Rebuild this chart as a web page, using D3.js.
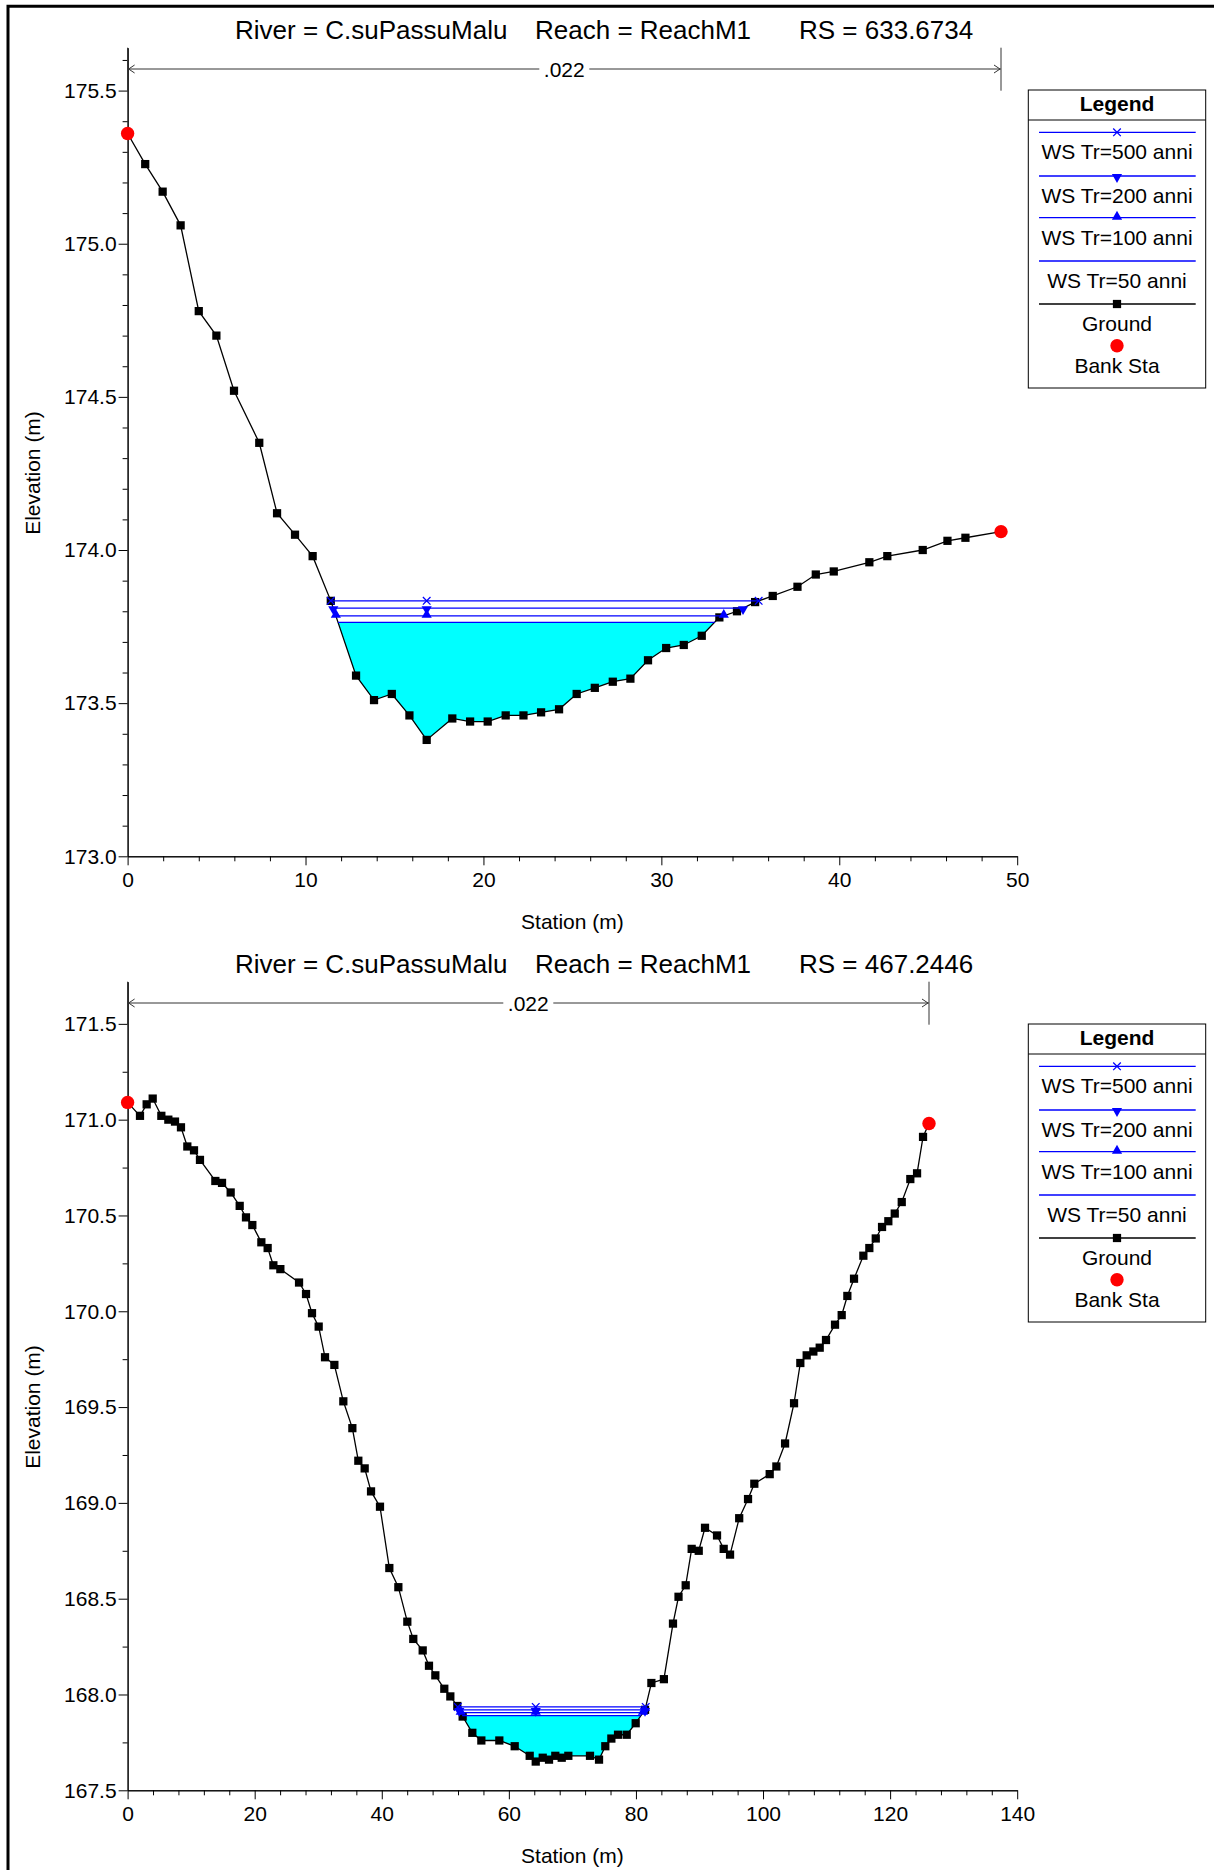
<!DOCTYPE html>
<html><head><meta charset="utf-8">
<script src="https://cdn.jsdelivr.net/npm/d3@7/dist/d3.min.js"></script>
<style>
body{margin:0;background:#fff}
svg{display:block}
text{font-family:'Liberation Sans',Arial,Helvetica,sans-serif;fill:#000}
</style>
</head><body>
<svg id="chart" width="1214" height="1870"></svg>
<script>
// ---------------- DATA ----------------
const riverLabel = "River = C.suPassuMalu";
const reachLabel = "Reach = ReachM1";
const rsLabels = ["RS = 633.6734", "RS = 467.2446"];
const manningLabel = ".022";
const xAxisTitle = "Station (m)";
const yAxisTitle = "Elevation (m)";
const legendTitle = "Legend";
const wsNames = ["WS Tr=500 anni", "WS Tr=200 anni", "WS Tr=100 anni", "WS Tr=50 anni"];
const groundName = "Ground";
const bankName = "Bank Sta";

// Cross section 1 (RS 633.6734)
const topStation = [0, 0.99, 1.97, 2.98, 4.0, 4.99, 5.98, 7.40, 8.40, 9.41, 10.40, 11.42, 12.84, 13.85, 14.85, 15.84, 16.81, 18.25, 19.25, 20.24, 21.25, 22.25, 23.24, 24.25, 25.24, 26.26, 27.27, 28.26, 29.25, 30.27, 31.26, 32.27, 33.26, 34.25, 35.27, 36.26, 37.65, 38.68, 39.69, 41.69, 42.70, 44.69, 46.08, 47.09, 49.09];
const topElevation = [175.36, 175.26, 175.17, 175.06, 174.78, 174.70, 174.52, 174.35, 174.12, 174.05, 173.98, 173.834, 173.59, 173.51, 173.53, 173.46, 173.38, 173.45, 173.44, 173.44, 173.46, 173.46, 173.47, 173.48, 173.53, 173.55, 173.57, 173.58, 173.64, 173.68, 173.69, 173.72, 173.78, 173.80, 173.83, 173.85, 173.88, 173.92, 173.93, 173.96, 173.98, 174.00, 174.03, 174.04, 174.06];
const topBankStation = [0, 49.09];
const topBankElevation = [175.36, 174.06];
const topWS = [173.834, 173.810, 173.785, 173.764];   // Tr 500, 200, 100, 50
const topXDomain = [0, 50];
const topYDomain = [173.0, 175.64];
const topXTicks = [0, 10, 20, 30, 40, 50];
const topXMinorStep = 2;
const topYTicks = [173.0, 173.5, 174.0, 174.5, 175.0, 175.5];
const topYMinorStep = 0.1;

// Cross section 2 (RS 467.2446)
const botStation = [0, 1.95, 3.0, 3.95, 5.31, 6.41, 7.46, 8.40, 9.40, 10.45,
  11.39, 13.81, 14.86, 16.22, 17.64, 18.63, 19.63, 21.05, 22.04, 22.94,
  24.04, 26.98, 28.08, 29.02, 30.07, 31.07, 32.54, 33.95, 35.37, 36.31,
  37.31, 38.31, 39.72, 41.19, 42.61, 44.02, 44.96, 46.44, 47.43, 48.43,
  49.84, 50.79, 51.89, 52.73, 54.25, 55.67, 58.5, 60.92, 63.28, 64.23,
  65.33, 66.32, 67.31, 68.32, 69.36, 72.77, 74.19, 75.18, 76.13, 77.18,
  78.55, 79.96, 81.43, 82.43, 84.4, 85.83, 86.7, 87.83, 88.77, 89.88,
  90.87, 92.76, 93.81, 94.81, 96.25, 97.64, 98.63, 101.05, 102.1, 103.47,
  104.88, 105.87, 106.87, 107.92, 108.92, 109.91, 111.33, 112.38, 113.27, 114.32,
  115.79, 116.73, 117.74, 118.73, 119.72, 120.73, 121.83, 123.18, 124.24, 125.18,
  126.12];
const botElevation = [171.09, 171.02, 171.08, 171.11, 171.02, 171.0, 170.99, 170.96, 170.86, 170.84,
  170.79, 170.68, 170.67, 170.62, 170.55, 170.49, 170.45, 170.36, 170.33, 170.24,
  170.22, 170.15, 170.09, 169.99, 169.92, 169.76, 169.72, 169.53, 169.39, 169.22,
  169.18, 169.06, 168.98, 168.66, 168.56, 168.38, 168.29, 168.23, 168.15, 168.10,
  168.03, 167.99, 167.94, 167.885, 167.80, 167.76, 167.76, 167.73, 167.68, 167.65,
  167.67, 167.66, 167.68, 167.67, 167.68, 167.68, 167.66, 167.73, 167.77, 167.79,
  167.79, 167.85, 167.92, 168.06, 168.08, 168.37, 168.51, 168.57, 168.76, 168.75,
  168.87, 168.83, 168.76, 168.73, 168.92, 169.02, 169.10, 169.15, 169.19, 169.31,
  169.52, 169.73, 169.77, 169.79, 169.81, 169.85, 169.93, 169.98, 170.08, 170.17,
  170.29, 170.33, 170.38, 170.44, 170.47, 170.51, 170.57, 170.69, 170.72, 170.91,
  170.98];
const botBankStation = [0, 126.12];
const botBankElevation = [171.09, 170.98];
const botWS = [167.935, 167.920, 167.905, 167.890];
const botXDomain = [0, 140];
const botYDomain = [167.5, 171.72];
const botXTicks = [0, 20, 40, 60, 80, 100, 120, 140];
const botXMinorStep = 4;
const botYTicks = [167.5, 168.0, 168.5, 169.0, 169.5, 170.0, 170.5, 171.0, 171.5];
const botYMinorStep = 0.25;

// ---------------- LAYOUT / STYLE ----------------
const PLOT = {left: 127.6, right: 1017.2, top: 47.7, bottom: 856.3};
const PANEL_OFFSETS = [0, 934];
const BLUE = "#0000ff", CYAN = "#00ffff", RED = "#ff0000";
const FONT = 21;

const svg = d3.select("#chart");
svg.append("rect").attr("width", 1214).attr("height", 1870).attr("fill", "#fff");
// outer frame
svg.append("path").attr("d", "M8,1870V6.3H1214").attr("fill", "none").attr("stroke", "#000").attr("stroke-width", 3);

const markerPath = {
  x: "M-3.8,-3.8L3.8,3.8M-3.8,3.8L3.8,-3.8",
  down: d3.symbol(d3.symbolTriangle, 45)(),
  up: d3.symbol(d3.symbolTriangle, 45)()
};
const wsMarkers = ["x", "down", "up", null];

function drawMarker(g, type, cx, cy) {
  if (!type) return;
  if (type === "x") {
    g.append("path").attr("d", markerPath.x).attr("transform", `translate(${cx},${cy})`)
      .attr("stroke", BLUE).attr("stroke-width", 1.3).attr("fill", "none");
  } else if (type === "down") {
    g.append("path").attr("d", markerPath.down).attr("transform", `translate(${cx},${cy + 1}) rotate(180)`)
      .attr("fill", BLUE);
  } else {
    g.append("path").attr("d", markerPath.up).attr("transform", `translate(${cx},${cy - 1})`)
      .attr("fill", BLUE);
  }
}

function crossing(st, el, ws, side, iMin) {
  if (side < 0) {
    for (let i = iMin; i > 0; i--) {
      if (el[i - 1] >= ws) {
        const t = (ws - el[i]) / (el[i - 1] - el[i]);
        return st[i] + t * (st[i - 1] - st[i]);
      }
    }
    return st[0];
  } else {
    for (let i = iMin; i < st.length - 1; i++) {
      if (el[i + 1] >= ws) {
        const t = (ws - el[i]) / (el[i + 1] - el[i]);
        return st[i] + t * (st[i + 1] - st[i]);
      }
    }
    return st[st.length - 1];
  }
}

function drawPanel(cfg, offset) {
  const g = svg.append("g").attr("transform", `translate(0,${offset})`);
  const x = d3.scaleLinear().domain(cfg.xDomain).range([PLOT.left, PLOT.right]);
  const y = d3.scaleLinear().domain(cfg.yDomain).range([PLOT.bottom, PLOT.top]);

  // Title
  const tg = g.append("g").attr("font-size", 26);
  tg.append("text").attr("x", 235).attr("y", 39).text(riverLabel);
  tg.append("text").attr("x", 535).attr("y", 39).text(reachLabel);
  tg.append("text").attr("x", 799).attr("y", 39).text(cfg.rs);

  // Axes
  const yMinor = d3.range(cfg.yDomain[0], cfg.yDomain[1] + 1e-9, cfg.yMinorStep)
    .filter(v => !cfg.yTicks.some(t => Math.abs(t - v) < 1e-6));
  const xMinor = d3.range(cfg.xDomain[0], cfg.xDomain[1] + 1e-9, cfg.xMinorStep)
    .filter(v => !cfg.xTicks.some(t => Math.abs(t - v) < 1e-6));

  const yAxisMinor = g.append("g").attr("transform", `translate(${PLOT.left},0)`)
    .call(d3.axisLeft(y).tickValues(yMinor).tickSize(5).tickSizeOuter(0).tickFormat(""));
  const yAxis = g.append("g").attr("transform", `translate(${PLOT.left},0)`)
    .call(d3.axisLeft(y).tickValues(cfg.yTicks).tickSize(9).tickSizeOuter(0).tickPadding(2).tickFormat(d3.format(".1f")));
  const xAxisMinor = g.append("g").attr("transform", `translate(0,${PLOT.bottom})`)
    .call(d3.axisBottom(x).tickValues(xMinor).tickSize(5).tickSizeOuter(0).tickFormat(""));
  const xAxis = g.append("g").attr("transform", `translate(0,${PLOT.bottom})`)
    .call(d3.axisBottom(x).tickValues(cfg.xTicks).tickSize(9).tickSizeOuter(0).tickPadding(7).tickFormat(d3.format("d")));
  [yAxisMinor, yAxis, xAxisMinor, xAxis].forEach(a => {
    a.attr("font-family", null).attr("font-size", FONT);
    a.selectAll("path,line").attr("stroke", "#000").attr("stroke-width", 1);
    a.selectAll("text").attr("fill", "#000");
  });

  // axis titles
  g.append("text").attr("x", (PLOT.left + PLOT.right) / 2).attr("y", 929)
    .attr("text-anchor", "middle").attr("font-size", FONT).text(xAxisTitle);
  g.append("text").attr("transform", `translate(39.5,473) rotate(-90)`)
    .attr("text-anchor", "middle").attr("font-size", FONT).text(yAxisTitle);

  // Manning's n bar between bank stations
  const nx0 = x(cfg.bankSt[0]), nx1 = x(cfg.bankSt[1]);
  const ny = 69, nTop = PLOT.top, nBot = PLOT.top + 43;
  const ng = g.append("g").attr("stroke", "#333").attr("stroke-width", 1).attr("fill", "none");
  ng.append("line").attr("x1", nx0).attr("x2", nx0).attr("y1", nTop).attr("y2", nBot);
  ng.append("line").attr("x1", nx1).attr("x2", nx1).attr("y1", nTop).attr("y2", nBot);
  const midx = (nx0 + nx1) / 2;
  ng.append("line").attr("x1", nx0).attr("x2", midx - 25).attr("y1", ny).attr("y2", ny);
  ng.append("line").attr("x1", midx + 25).attr("x2", nx1).attr("y1", ny).attr("y2", ny);
  ng.append("path").attr("d", `M${nx0 + 7},${ny - 4}L${nx0 + 1},${ny}L${nx0 + 7},${ny + 4}`);
  ng.append("path").attr("d", `M${nx1 - 7},${ny - 4}L${nx1 - 1},${ny}L${nx1 - 7},${ny + 4}`);
  g.append("text").attr("x", midx).attr("y", ny + 7.5).attr("text-anchor", "middle")
    .attr("font-size", FONT).text(manningLabel);

  // water fill (lowest profile)
  const st = cfg.station, el = cfg.elevation;
  const iMin = el.indexOf(d3.min(el));
  const wsLow = cfg.ws[cfg.ws.length - 1];
  const xl = crossing(st, el, wsLow, -1, iMin), xr = crossing(st, el, wsLow, 1, iMin);
  const fillPts = [[xl, wsLow]];
  st.forEach((s, i) => { if (s > xl && s < xr) fillPts.push([s, el[i]]); });
  fillPts.push([xr, wsLow]);
  g.append("path").datum(fillPts)
    .attr("d", d3.area().x(d => x(d[0])).y0(y(wsLow)).y1(d => y(d[1])))
    .attr("fill", CYAN);

  // ground
  const pts = st.map((s, i) => [s, el[i]]);
  g.append("path").datum(pts).attr("d", d3.line().x(d => x(d[0])).y(d => y(d[1])))
    .attr("fill", "none").attr("stroke", "#000").attr("stroke-width", 1.3);
  const sq = d3.symbol(d3.symbolSquare, 68)();
  g.append("g").selectAll("path").data(pts).join("path")
    .attr("d", sq).attr("transform", d => `translate(${x(d[0])},${y(d[1])})`).attr("fill", "#000");

  // water surfaces
  cfg.ws.forEach((w, k) => {
    const a = crossing(st, el, w, -1, iMin), b = crossing(st, el, w, 1, iMin);
    g.append("line").attr("x1", x(a)).attr("x2", x(b)).attr("y1", y(w)).attr("y2", y(w))
      .attr("stroke", BLUE).attr("stroke-width", 1.3);
    [a, st[iMin], b].forEach(s => drawMarker(g, wsMarkers[k], x(s), y(w)));
  });

  // bank stations
  g.append("g").selectAll("circle").data(cfg.bankSt.map((s, i) => [s, cfg.bankEl[i]])).join("circle")
    .attr("cx", d => x(d[0])).attr("cy", d => y(d[1])).attr("r", 6.7).attr("fill", RED);

  // Legend
  const lg = g.append("g").attr("transform", "translate(1028.3,90)");
  lg.append("rect").attr("width", 177.4).attr("height", 298).attr("fill", "#fff")
    .attr("stroke", "#000").attr("stroke-width", 1);
  lg.append("line").attr("x1", 0).attr("x2", 177.4).attr("y1", 30).attr("y2", 30).attr("stroke", "#000");
  lg.append("text").attr("x", 88.7).attr("y", 21).attr("text-anchor", "middle")
    .attr("font-size", FONT).attr("font-weight", "bold").text(legendTitle);
  const lineYs = [42.3, 86, 127.7, 171, 214];
  wsNames.forEach((nm, k) => {
    const ly = lineYs[k];
    lg.append("line").attr("x1", 10.7).attr("x2", 167.4).attr("y1", ly).attr("y2", ly)
      .attr("stroke", BLUE).attr("stroke-width", 1.3);
    drawMarker(lg, wsMarkers[k], 88.7, ly);
    lg.append("text").attr("x", 88.7).attr("y", ly + 27).attr("text-anchor", "middle")
      .attr("font-size", FONT).text(nm);
  });
  const gy = lineYs[4];
  lg.append("line").attr("x1", 10.7).attr("x2", 167.4).attr("y1", gy).attr("y2", gy)
    .attr("stroke", "#000").attr("stroke-width", 1.3);
  lg.append("path").attr("d", sq).attr("transform", `translate(88.7,${gy})`).attr("fill", "#000");
  lg.append("text").attr("x", 88.7).attr("y", gy + 27).attr("text-anchor", "middle")
    .attr("font-size", FONT).text(groundName);
  lg.append("circle").attr("cx", 88.7).attr("cy", 255.7).attr("r", 6.7).attr("fill", RED);
  lg.append("text").attr("x", 88.7).attr("y", 282.5).attr("text-anchor", "middle")
    .attr("font-size", FONT).text(bankName);
}

drawPanel({
  rs: rsLabels[0], station: topStation, elevation: topElevation,
  bankSt: topBankStation, bankEl: topBankElevation, ws: topWS,
  xDomain: topXDomain, yDomain: topYDomain, xTicks: topXTicks, yTicks: topYTicks,
  xMinorStep: topXMinorStep, yMinorStep: topYMinorStep
}, PANEL_OFFSETS[0]);

drawPanel({
  rs: rsLabels[1], station: botStation, elevation: botElevation,
  bankSt: botBankStation, bankEl: botBankElevation, ws: botWS,
  xDomain: botXDomain, yDomain: botYDomain, xTicks: botXTicks, yTicks: botYTicks,
  xMinorStep: botXMinorStep, yMinorStep: botYMinorStep
}, PANEL_OFFSETS[1]);
</script>
</body></html>
